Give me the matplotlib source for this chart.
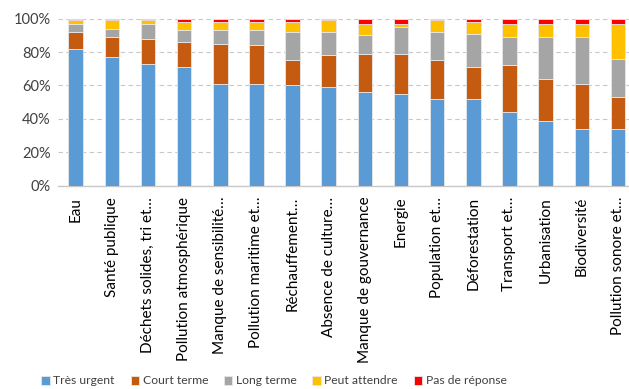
import matplotlib
matplotlib.use("Agg")
import matplotlib.pyplot as plt
import numpy as np

categories = ["Eau", "Santé publique", "Déchets solides, tri et…", "Pollution atmosphérique",
              "Manque de sensibilité…", "Pollution maritime et…", "Réchauffement…",
              "Absence de culture…", "Manque de gouvernance", "Energie", "Population et…",
              "Déforestation", "Transport et…", "Urbanisation", "Biodiversité",
              "Pollution sonore et…"]
tres_urgent = [82, 77, 73, 71, 61, 61, 60, 59, 56, 55, 52, 52, 44, 39, 34, 34]
court_terme = [10, 12, 15, 15, 24, 23, 15, 19, 23, 24, 23, 19, 28, 25, 27, 19]
long_terme = [5, 5, 9, 7, 8, 9, 17, 14, 11, 16, 17, 20, 17, 25, 28, 23]
peut_attendre = [2, 5, 2, 5, 5, 5, 6, 7, 7, 2, 7, 7, 8, 8, 8, 21]
pas_de_reponse = [1, 1, 1, 2, 2, 2, 2, 1, 3, 3, 1, 2, 3, 3, 3, 3]

series = [("Très urgent", tres_urgent, "#5B9BD5"),
          ("Court terme", court_terme, "#C55A11"),
          ("Long terme", long_terme, "#A5A5A5"),
          ("Peut attendre", peut_attendre, "#FFC000"),
          ("Pas de réponse", pas_de_reponse, "#FF0000")]

plt.rcParams['font.family'] = ['Lato', 'DejaVu Sans']
fig = plt.figure(figsize=(6.29, 3.89), dpi=100)
W, H = 629, 389
left, right = 57.6, 636.0
top, bottom = 18.7, 185.7
ax = fig.add_axes([left / W, 1 - bottom / H, (right - left) / W, (bottom - top) / H])

x = np.arange(len(categories))
cum = np.zeros(len(categories))
handles = []
for name, vals, col in series:
    v = np.array(vals, dtype=float) / 100.0
    b = ax.bar(x, v, width=0.4, bottom=cum, color=col, edgecolor="#e8e8e8", linewidth=0.6,
               label=name, zorder=3)
    handles.append(b)
    cum += v

ax.set_xlim(-0.5, len(categories) - 0.5)
ax.set_ylim(0, 1)
ax.set_yticks(np.arange(0, 1.01, 0.2))
ax.set_yticklabels([f"{int(round(t*100))}%" for t in np.arange(0, 1.01, 0.2)], fontsize=10.5, color="#404040")
ax.set_xticks(x)
ax.set_xticklabels(categories, rotation=90, fontsize=11, color="#000000", va="top", ha="center")
ax.tick_params(axis="both", length=0, pad=5)
ax.tick_params(axis="x", pad=8)
ax.yaxis.grid(True, color="#c8c8c8", linestyle=(0, (4, 3)), linewidth=0.8, zorder=0)
ax.set_axisbelow(True)
for s in ["top", "right", "left"]:
    ax.spines[s].set_visible(False)
ax.spines["bottom"].set_color("#c8c8c8")
ax.spines["bottom"].set_linewidth(1.0)

fig.legend(handles=handles, loc="center", bbox_to_anchor=(274 / W, 1 - 381 / H), ncol=5,
           frameon=False, fontsize=8.7, handlelength=0.7, handleheight=0.7, handletextpad=0.3,
           columnspacing=1.3, labelcolor="#404040")

fig.savefig("out.png", dpi=100)
